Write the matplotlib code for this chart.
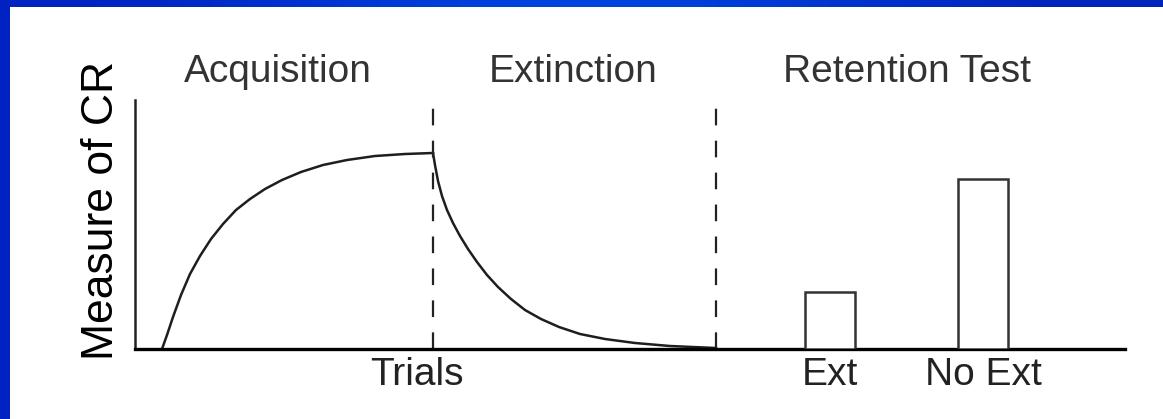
import numpy as np
import matplotlib
import matplotlib.pyplot as plt

matplotlib.use('Agg')

plt.rcParams['font.family'] = ['Liberation Sans', 'DejaVu Sans']
plt.rcParams['lines.scale_dashes'] = False

W, H = 1163, 419

# curve readings (x = trial position, y = measure of CR)
acq_x = [27, 32, 38, 46, 55, 65, 76, 88, 101, 115, 130, 147, 166, 188, 212,
         240, 270, 298]
acq_y = [0, 14, 32, 54, 75, 93, 110, 125, 139, 150, 160, 169, 177, 184, 189,
         193, 195, 196]

ext_x = [298, 300, 303, 307, 312, 318, 325, 333, 342, 352, 363, 376, 390, 406,
         424, 445, 470, 500, 535, 581]
ext_y = [196, 184, 168, 153, 139, 126, 113, 100, 87, 74, 62, 50, 39, 30,
         22, 15, 10, 6, 3, 1]

phase_bounds = [298, 581]
phase_names = ['Acquisition', 'Extinction', 'Retention Test']
phase_centers = [143, 438, 772]

test_names = ['Ext', 'No Ext']
test_pos = [695, 848]
test_vals = [57, 170]

fig = plt.figure(figsize=(W / 100, H / 100), dpi=100)
fig.patch.set_facecolor('white')

# blue slide frame (top gradient band + left band)
top = fig.add_axes([0, (H - 7) / H, 1, 7 / H])
grad = np.array([[0.0, 0.13, 0.75], [0.0, 0.33, 0.94], [0.0, 0.13, 0.73]])
top.imshow(grad[np.newaxis, :, :], aspect='auto', interpolation='bicubic',
           extent=[0, 1, 0, 1])
top.axis('off')
left = fig.add_axes([0, 0, 10 / W, 1])
left.set_facecolor('#0022c2')
left.set_xticks([])
left.set_yticks([])
for s in left.spines.values():
    s.set_visible(False)

ax = fig.add_axes([135 / W, 70 / H, 990 / W, 249 / H])
ax.set_xlim(0, 990)
ax.set_ylim(0, 249)

ax.plot(acq_x, acq_y, color='#1e1e1e', lw=1.8, solid_joinstyle='round')
ax.plot(ext_x, ext_y, color='#1e1e1e', lw=1.8, solid_joinstyle='round')

for b in phase_bounds:
    ax.plot([b, b], [0, 249], color='#222222', lw=1.6, dashes=(12, 11))

ax.bar(test_pos, test_vals, width=50, color='white', edgecolor='#333333',
       lw=1.8, zorder=3)

for name, cx in zip(phase_names, phase_centers):
    ax.text(cx, 267, name, ha='center', va='baseline', fontsize=28,
            color='#333333', clip_on=False)

ax.set_xticks([282] + test_pos)
ax.set_xticklabels(['Trials'] + test_names, fontsize=28, color='#222222')
ax.tick_params(axis='x', length=0, pad=6)
ax.set_yticks([])

for s in ['top', 'right']:
    ax.spines[s].set_visible(False)
ax.spines['bottom'].set_linewidth(2.4)
ax.spines['bottom'].set_color('black')
ax.spines['left'].set_linewidth(1.8)
ax.spines['left'].set_color('#222222')

fig.text(102 / W, (H - 210) / H, 'Measure of CR', rotation=90, ha='center',
         va='center', fontsize=32, color='black')

fig.savefig('out.png', dpi=100)
